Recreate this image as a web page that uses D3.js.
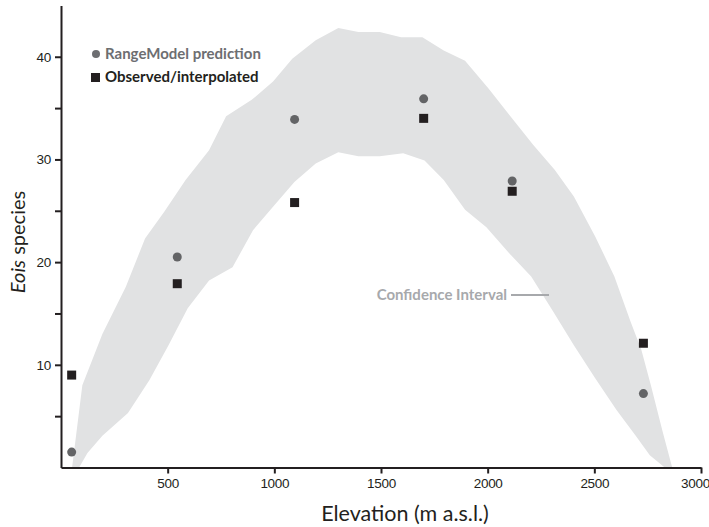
<!DOCTYPE html>
<html>
<head>
<meta charset="utf-8">
<script src="https://cdn.jsdelivr.net/npm/d3@7"></script>
<style>
  body { margin: 0; background: #fff; }
  svg { display: block; font-family: Lato, "Open Sans", sans-serif; }
  .axis path, .axis line { stroke: #231f20; stroke-width: 2; }
  .axis text { fill: #231f20; font-size: 13.5px; letter-spacing: -0.3px; }
</style>
</head>
<body>
<div id="chart"></div>
<script>
// elevation (m a.s.l.) of the sampled sites
var elevation = [50, 545, 1095, 1700, 2115, 2730];
var predicted = [1.5, 20.5, 33.9, 35.9, 27.9, 7.2];
var observed = [9.0, 17.9, 25.8, 34.0, 26.9, 12.1];

// confidence interval, upper and lower edges
var ciUpperX = [52, 100, 194, 304, 394, 484, 584, 694, 774, 894, 994, 1084, 1194, 1300, 1394, 1494, 1594, 1694, 1794, 1894, 2004, 2114, 2214, 2314, 2404, 2504, 2594, 2670, 2720, 2765, 2820, 2865];
var ciUpperY = [0, 8.0, 13.0, 17.6, 22.3, 24.9, 28.0, 30.9, 34.2, 35.8, 37.6, 39.8, 41.6, 42.8, 42.4, 42.4, 41.9, 41.9, 40.6, 39.6, 36.9, 34.0, 31.4, 29.0, 26.4, 22.5, 18.6, 14.2, 11.5, 8.0, 3.5, 0];
var ciLowerX = [85, 124, 194, 314, 414, 504, 594, 694, 804, 900, 994, 1094, 1194, 1300, 1394, 1494, 1604, 1704, 1794, 1894, 1994, 2104, 2204, 2304, 2404, 2504, 2604, 2694, 2760, 2830];
var ciLowerY = [0, 1.4, 3.1, 5.3, 8.5, 11.9, 15.5, 18.2, 19.5, 23.1, 25.4, 27.8, 29.6, 30.7, 30.3, 30.3, 30.6, 29.9, 28.0, 25.1, 23.4, 20.8, 18.6, 15.3, 11.9, 8.7, 5.6, 3.1, 1.2, 0];

var xTicks = [500, 1000, 1500, 2000, 2500, 3000];
var yTicks = [5, 10, 15, 20, 25, 30, 35, 40];

var width = 709, height = 527;

var svg = d3.select("#chart").append("svg")
    .attr("width", width)
    .attr("height", height);

var x = d3.scaleLinear().domain([0, 3000]).range([61, 701]);
var y = d3.scaleLinear().domain([0, 45]).range([467.5, 5.4]);

// band
var band = ciUpperX.map(function (d, i) { return [d, ciUpperY[i]]; })
    .concat(ciLowerX.map(function (d, i) { return [d, ciLowerY[i]]; }).reverse());

svg.append("path")
    .datum(band)
    .attr("fill", "#e1e2e3")
    .attr("d", d3.line()
        .x(function (d) { return x(d[0]); })
        .y(function (d) { return y(d[1]); }));

// axes
var xAxis = svg.append("g")
    .attr("class", "axis")
    .attr("transform", "translate(0," + y(0) + ")")
    .call(d3.axisBottom(x).tickValues(xTicks).tickFormat(d3.format("d"))
        .tickSize(6).tickSizeOuter(0).tickPadding(5));

// last label sits at the right edge of the picture
xAxis.selectAll(".tick text").filter(function (d) { return d === 3000; })
    .attr("dx", -6);

svg.append("g")
    .attr("class", "axis")
    .attr("transform", "translate(" + x(0) + ",0)")
    .call(d3.axisLeft(y).tickValues(yTicks).tickSize(6).tickSizeOuter(0).tickPadding(4)
        .tickFormat(function (d) { return d % 10 === 0 ? d : ""; }));

// points
svg.selectAll("circle.pred")
    .data(elevation)
    .enter().append("circle")
    .attr("class", "pred")
    .attr("cx", function (d) { return x(d); })
    .attr("cy", function (d, i) { return y(predicted[i]); })
    .attr("r", 4.5)
    .attr("fill", "#636466");

svg.selectAll("rect.obs")
    .data(elevation)
    .enter().append("rect")
    .attr("class", "obs")
    .attr("x", function (d) { return x(d) - 4.5; })
    .attr("y", function (d, i) { return y(observed[i]) - 4.5; })
    .attr("width", 9)
    .attr("height", 9)
    .attr("fill", "#231f20");

// legend
svg.append("circle").attr("cx", 96).attr("cy", 54).attr("r", 4).attr("fill", "#6d6e71");
svg.append("text").attr("x", 105).attr("y", 59)
    .attr("font-size", "15px").attr("font-weight", "bold").attr("fill", "#6d6e71")
    .text("RangeModel prediction");
svg.append("rect").attr("x", 91).attr("y", 73).attr("width", 9).attr("height", 9).attr("fill", "#231f20");
svg.append("text").attr("x", 105).attr("y", 82)
    .attr("font-size", "15px").attr("font-weight", "bold").attr("fill", "#231f20")
    .text("Observed/interpolated");

// confidence interval label
svg.append("text").attr("x", 507).attr("y", 300)
    .attr("text-anchor", "end")
    .attr("font-size", "15px").attr("font-weight", "bold").attr("fill", "#a7a9ac")
    .text("Confidence Interval");
svg.append("line").attr("x1", 511).attr("x2", 549).attr("y1", 295).attr("y2", 295)
    .attr("stroke", "#a7a9ac").attr("stroke-width", 2);

// axis titles
svg.append("text").attr("x", 405).attr("y", 521)
    .attr("text-anchor", "middle").attr("font-size", "21.5px").attr("fill", "#231f20")
    .text("Elevation (m a.s.l.)");

var yt = svg.append("text")
    .attr("transform", "translate(25,242) rotate(-90)")
    .attr("text-anchor", "middle").attr("font-size", "20px").attr("fill", "#231f20");
yt.append("tspan").attr("font-style", "italic").text("Eois");
yt.append("tspan").text(" species");
</script>
</body>
</html>
